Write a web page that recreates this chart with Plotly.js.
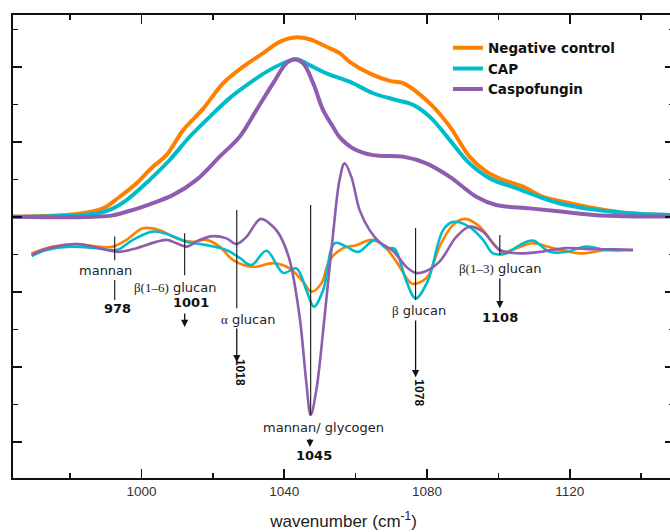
<!DOCTYPE html>
<html>
<head>
<meta charset="utf-8">
<script src="https://cdn.plot.ly/plotly-3.0.1.min.js"></script>
<style>
html,body{margin:0;padding:0;background:#fff;overflow:hidden;width:670px;height:532px;}
#chart{width:674px;height:532px;}
</style>
</head>
<body>
<div id="chart"></div>
<script>
// ---- Data (wavenumber, cm^-1 ; intensity in arbitrary units) ----
const seriesNames = ["Negative control", "CAP", "Caspofungin"];
const seriesColors = ["#FF8000", "#00BCCB", "#8E5DB0"];

// Absorbance spectra (upper curves)
const wnNegAbs = [964.0, 981.8, 989.2, 993.9, 998.6, 1003.2, 1007.0, 1011.7, 1017.3, 1022.9, 1028.5, 1034.1, 1038.7, 1042.9, 1047.1, 1051.8, 1055.5, 1058.3, 1063.9, 1069.6, 1073.3, 1080.8, 1086.4, 1091.9, 1096.6, 1101.3, 1106.9, 1112.5, 1118.1, 1127.4, 1136.8, 1149.0];
const absNeg = [0.01, 0.08, 0.23, 0.54, 0.90, 1.34, 1.65, 2.32, 2.89, 3.57, 4.01, 4.37, 4.67, 4.79, 4.74, 4.54, 4.37, 4.14, 3.83, 3.63, 3.57, 3.03, 2.41, 1.61, 1.21, 0.99, 0.81, 0.54, 0.41, 0.23, 0.10, 0.05];

const wnCapAbs = [964.0, 986.4, 991.1, 995.8, 1002.3, 1007.9, 1013.5, 1019.1, 1024.7, 1030.3, 1035.0, 1039.7, 1043.4, 1047.1, 1051.8, 1058.3, 1064.9, 1071.4, 1076.1, 1080.8, 1086.4, 1091.9, 1097.6, 1105.0, 1112.5, 1118.1, 1127.4, 1136.8, 1149.0];
const absCap = [0.00, 0.08, 0.19, 0.45, 0.99, 1.52, 2.14, 2.67, 3.17, 3.57, 3.87, 4.10, 4.21, 4.05, 3.83, 3.61, 3.30, 3.12, 2.99, 2.67, 2.05, 1.43, 1.03, 0.77, 0.50, 0.34, 0.19, 0.10, 0.05];

const wnCasAbs = [964.0, 991.1, 995.8, 1002.3, 1008.9, 1015.4, 1021.9, 1027.5, 1032.2, 1036.9, 1040.6, 1042.9, 1045.3, 1048.1, 1050.9, 1053.7, 1055.5, 1059.3, 1064.9, 1073.3, 1079.8, 1086.4, 1093.8, 1099.4, 1108.8, 1118.1, 1127.4, 1149.0];
const absCas = [0.01, 0.03, 0.14, 0.34, 0.59, 0.99, 1.61, 2.14, 2.85, 3.57, 4.10, 4.21, 4.10, 3.57, 2.85, 2.40, 2.13, 1.83, 1.65, 1.61, 1.43, 1.07, 0.54, 0.32, 0.23, 0.14, 0.05, 0.01];

// Second-derivative spectra (lower curves)
const wnNegDer = [969.2, 975.2, 981.8, 987.4, 992.0, 995.8, 1000.4, 1005.1, 1009.8, 1014.5, 1018.2, 1021.9, 1025.7, 1031.3, 1036.9, 1041.5, 1045.3, 1047.6, 1050.4, 1052.7, 1056.5, 1060.2, 1064.4, 1067.7, 1071.4, 1075.6, 1077.1, 1080.2, 1083.5, 1087.3, 1090.6, 1094.8, 1098.5, 1101.3, 1105.0, 1109.7, 1115.3, 1122.8, 1130.3, 1137.7];
const derNeg = [-0.97, -0.79, -0.72, -0.79, -0.79, -0.61, -0.30, -0.35, -0.57, -0.66, -0.61, -0.79, -1.15, -1.33, -1.23, -1.37, -1.73, -1.99, -1.77, -1.15, -0.83, -0.75, -0.61, -0.75, -1.19, -1.77, -1.77, -1.59, -0.79, -0.21, -0.05, -0.26, -0.70, -0.93, -0.83, -0.70, -0.83, -0.97, -0.88, -0.88];

const wnCapDer = [969.2, 973.4, 979.9, 987.4, 993.0, 997.6, 1003.2, 1007.9, 1012.6, 1018.2, 1023.8, 1027.5, 1030.8, 1035.0, 1039.7, 1043.4, 1046.2, 1048.3, 1050.9, 1054.1, 1057.4, 1060.7, 1065.4, 1068.6, 1070.9, 1074.2, 1076.8, 1080.2, 1084.5, 1087.3, 1091.9, 1095.7, 1098.5, 1102.2, 1106.0, 1109.7, 1114.4, 1119.0, 1124.6, 1130.3, 1137.7];
const derCap = [-1.04, -0.88, -0.79, -0.83, -0.88, -0.61, -0.39, -0.48, -0.66, -0.75, -0.88, -1.09, -1.28, -0.90, -1.49, -1.37, -1.95, -2.39, -1.95, -0.70, -0.79, -0.93, -0.61, -0.83, -0.85, -1.71, -2.17, -1.71, -0.35, -0.13, -0.26, -0.61, -0.97, -0.97, -0.75, -0.63, -0.93, -0.93, -0.79, -0.88, -0.88];

const wnCasDer = [969.2, 972.4, 977.1, 981.8, 986.4, 990.2, 993.9, 998.6, 1003.2, 1007.0, 1009.8, 1012.6, 1016.3, 1020.1, 1023.8, 1026.6, 1029.4, 1033.4, 1036.9, 1038.7, 1041.5, 1044.3, 1046.2, 1047.4, 1049.0, 1051.3, 1053.7, 1055.5, 1056.9, 1058.8, 1061.1, 1063.9, 1066.7, 1070.5, 1074.2, 1076.8, 1079.3, 1083.5, 1088.2, 1091.9, 1095.7, 1100.4, 1106.0, 1111.6, 1119.0, 1126.5, 1132.1, 1137.7];
const derCas = [-1.01, -0.88, -0.77, -0.72, -0.79, -0.88, -0.93, -0.83, -0.69, -0.61, -0.70, -0.79, -0.61, -0.51, -0.57, -0.72, -0.53, -0.05, -0.26, -0.48, -1.15, -2.66, -4.43, -5.28, -4.61, -2.66, -0.43, 0.99, 1.43, 1.07, 0.19, -0.35, -0.67, -0.91, -1.33, -1.49, -1.46, -1.19, -0.53, -0.26, -0.39, -0.88, -0.97, -0.93, -0.83, -0.86, -0.86, -0.88];

// Band assignments
const bandLabels = ["mannan", "β(1–6) glucan", "α glucan", "mannan/ glycogen", "β glucan", "β(1–3) glucan"];
const bandNumbers = ["978", "1001", "1018", "1045", "1078", "1108"];

const xTickVals = [1000, 1040, 1080, 1120];
const xTitle = "wavenumber (cm<sup>-1</sup>)";

// ---- Traces ----
const absX = [wnNegAbs, wnCapAbs, wnCasAbs];
const absY = [absNeg, absCap, absCas];
const derX = [wnNegDer, wnCapDer, wnCasDer];
const derY = [derNeg, derCap, derCas];
const traces = [];
for (let i = 0; i < 3; i++) {
  traces.push({
    x: absX[i], y: absY[i], type: "scatter", mode: "lines",
    name: seriesNames[i], legendgroup: "g" + i,
    line: {color: seriesColors[i], width: 4, shape: "spline", smoothing: 1},
    hoverinfo: "skip"
  });
}
for (let i = 0; i < 3; i++) {
  traces.push({
    x: derX[i], y: derY[i], type: "scatter", mode: "lines",
    name: seriesNames[i], legendgroup: "g" + i, showlegend: false,
    line: {color: seriesColors[i], width: 2.6, shape: "spline", smoothing: 1},
    hoverinfo: "skip"
  });
}

// ---- Annotation geometry ----
const vline = (x, y0, y1) => ({type: "line", xref: "x", yref: "y", x0: x, x1: x, y0: y0, y1: y1,
  line: {color: "#111", width: 1.1}});
const shapes = [
  vline(992.5, -0.52, -1.15), vline(992.5, -1.68, -2.21),
  vline(1012.1, -0.43, -1.55),
  vline(1026.7, 0.19, -2.43),
  vline(1047.4, 0.32, -5.28),
  vline(1076.8, -0.29, -2.21),
  vline(1100.4, -0.48, -1.01)
];

const txtFont = {family: "DejaVu Sans", size: 13, color: "#222"};
const numFont = {family: "DejaVu Sans", size: 13, color: "#111"};
const serif = (s) => '<span style="font-family:\'Liberation Serif\'">' + s + '</span>';
const label = (x, y, text, font, extra) => Object.assign({x: x, y: y, xref: "x", yref: "y",
  text: text, showarrow: false, font: font, xanchor: "center", yanchor: "middle"}, extra || {});
const arrow = (x, yTail, yHead) => ({x: x, y: yHead, ax: x, ay: yTail, xref: "x", yref: "y",
  axref: "x", ayref: "y", text: "", showarrow: true, arrowhead: 2, arrowsize: 1.1,
  arrowwidth: 1.3, arrowcolor: "#111", standoff: 0, startstandoff: 0});

const annotations = [
  label(990.0, -1.43, bandLabels[0], txtFont),
  label(993.3, -2.45, "<b>" + bandNumbers[0] + "</b>", numFont),
  label(1009.3, -1.89, serif("β(1–6)") + " glucan", txtFont),
  label(1013.8, -2.29, "<b>" + bandNumbers[1] + "</b>", numFont),
  arrow(1012.1, -2.53, -2.93),
  label(1029.8, -2.72, serif("α") + " glucan", txtFont),
  arrow(1026.7, -2.93, -3.87),
  label(1027.6, -4.13, "<b>" + bandNumbers[2] + "</b>", {family: "Liberation Sans", size: 12, color: "#111"}, {textangle: 90}),
  label(1051.0, -5.60, bandLabels[3], txtFont),
  arrow(1047.2, -5.87, -6.13),
  label(1048.3, -6.35, "<b>" + bandNumbers[3] + "</b>", numFont),
  label(1077.7, -2.48, serif("β") + " glucan", txtFont),
  arrow(1076.8, -2.72, -4.27),
  label(1077.9, -4.69, "<b>" + bandNumbers[4] + "</b>", {family: "Liberation Sans", size: 12, color: "#111"}, {textangle: 90}),
  label(1100.4, -1.36, serif("β(1–3)") + " glucan", txtFont),
  arrow(1100.4, -1.60, -2.43),
  label(1100.4, -2.67, "<b>" + bandNumbers[5] + "</b>", numFont)
];

const layout = {
  width: 674, height: 532,
  margin: {l: 13, r: 0, t: 15, b: 54},
  paper_bgcolor: "#fff", plot_bgcolor: "#fff",
  showlegend: true,
  legend: {x: 0.658, y: 0.962, xanchor: "left", yanchor: "top", bgcolor: "rgba(0,0,0,0)",
    font: {family: "DejaVu Sans", size: 13.5, color: "#111", weight: "bold"},
    tracegroupgap: 0, itemwidth: 30},
  xaxis: {
    range: [964, 1149.2], tickvals: xTickVals, ticks: "inside", ticklen: 9, tickwidth: 1.8,
    tickcolor: "#111", showline: true, linewidth: 2, linecolor: "#111", mirror: "ticks",
    showgrid: false, zeroline: false,
    tickfont: {family: "Liberation Sans", size: 13.5, color: "#333"},
    minor: {dtick: 20, tick0: 1000, ticks: "inside", ticklen: 5, tickwidth: 1.5, tickcolor: "#111", showgrid: false},
    title: {text: xTitle, font: {family: "Liberation Sans", size: 17, color: "#222"}, standoff: 17}
  },
  yaxis: {
    range: [-6.96, 5.387], dtick: 2, tick0: 0, ticks: "inside", ticklen: 9, tickwidth: 1.8,
    tickcolor: "#111", showline: true, linewidth: 2, linecolor: "#111", mirror: "ticks",
    showgrid: false, zeroline: false, showticklabels: false,
    minor: {dtick: 1, tick0: 0, ticks: "inside", ticklen: 5, tickwidth: 1.5, tickcolor: "#111", showgrid: false}
  },
  shapes: shapes,
  annotations: annotations
};

Plotly.newPlot("chart", traces, layout, {displayModeBar: false, staticPlot: true});
</script>
</body>
</html>
